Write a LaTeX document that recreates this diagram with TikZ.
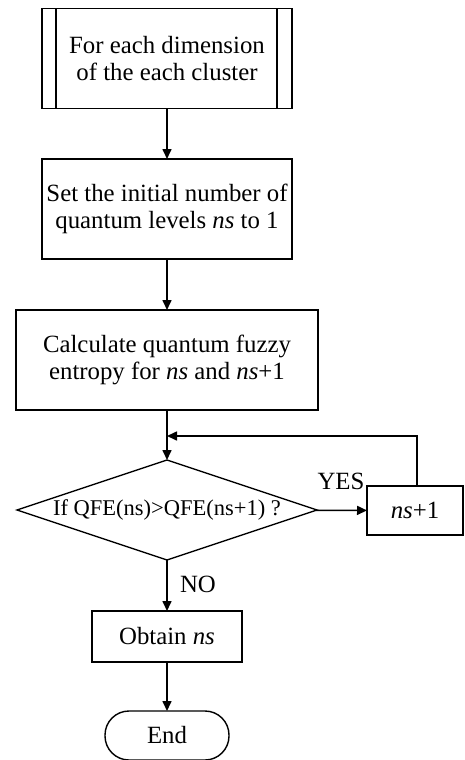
\documentclass[tikz,border=0pt]{standalone}
\usepackage{fontspec}
\setmainfont{Liberation Serif}
\usetikzlibrary{arrows.meta,shapes.geometric}
\begin{document}
\begin{tikzpicture}[x=1pt,y=-1pt,
  line width=1.6pt,
  every node/.style={inner sep=0pt,outer sep=0pt},
  txt/.style={font=\fontsize{24.8}{27.5}\selectfont,align=center},
  box/.style={draw,rectangle,line width=1.4pt,txt},
  decision/.style={draw,diamond,line width=1.4pt,font=\fontsize{22.5}{24}\selectfont},
  terminal/.style={draw,rectangle,rounded corners=24pt,line width=1.4pt,txt},
  flow/.style={-{Triangle[length=10pt,width=9pt]}}]
\useasboundingbox (0,0) rectangle (464,760);

% predefined process block
\node[box,minimum width=250pt,minimum height=100pt] (p1) at (167,58.5)
  {For each dimension\\of the each cluster};
\draw[line width=1.4pt] ([xshift=14pt]p1.north west) -- ([xshift=14pt]p1.south west);
\draw[line width=1.4pt] ([xshift=-15pt]p1.north east) -- ([xshift=-15pt]p1.south east);

\node[box,minimum width=250pt,minimum height=100pt] (p2) at (167,209)
  {Set the initial number of\\quantum levels \textit{ns} to 1};

\node[box,minimum width=302pt,minimum height=100pt] (p3) at (167,360)
  {Calculate quantum fuzzy\\entropy for \textit{ns} and \textit{ns}+1};

\node[decision,minimum width=300pt,minimum height=100pt,aspect=3] (d) at (167,510)
  {If QFE(ns)>QFE(ns+1) ?};

\node[box,minimum width=96pt,minimum height=49pt] (inc) at (415,510.5) {\textit{ns}+1};

\node[box,minimum width=150pt,minimum height=51pt] (ob) at (167,636.5) {Obtain \textit{ns}};

\node[terminal,minimum width=124pt,minimum height=49pt] (end) at (167,735.5) {End};

\coordinate (j) at (167,436);

% connectors
\draw[flow] (p1) -- (p2);
\draw[flow] (p2) -- (p3);
\draw[flow] (p3) -- (d);
\draw[flow] (d) -- (inc);
\draw[flow] ([xshift=2pt]inc.north) |- (j);
\draw[flow] (d) -- (ob);
\draw[flow] (ob) -- (end);

% branch labels
\node[txt] (yes) at (341,481) {YES};
\node[txt] (no) at (198,584) {NO};
\end{tikzpicture}
\end{document}
